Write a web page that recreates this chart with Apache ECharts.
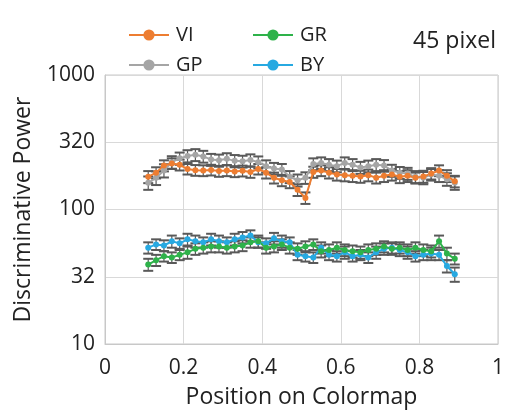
<!DOCTYPE html>
<html>
<head>
<meta charset="utf-8">
<script src="https://cdn.jsdelivr.net/npm/echarts@6/dist/echarts.min.js"></script>
<style>
  html, body { margin: 0; padding: 0; background: #fff; }
  #chart { width: 507px; height: 414px; }
</style>
</head>
<body>
<div id="chart"></div>
<script>
// position on colormap (x) for every sample
var positions = [0.11, 0.13, 0.15, 0.17, 0.19, 0.21, 0.23, 0.25, 0.27, 0.29,
                 0.31, 0.33, 0.35, 0.37, 0.39, 0.41, 0.43, 0.45, 0.47, 0.49,
                 0.51, 0.53, 0.55, 0.57, 0.59, 0.61, 0.63, 0.65, 0.67, 0.69,
                 0.71, 0.73, 0.75, 0.77, 0.79, 0.81, 0.83, 0.85, 0.87, 0.89];

var viValues = [175, 188, 212, 220, 215, 200, 196, 195, 197, 193,
                195, 192, 194, 190, 200, 188, 172, 165, 160, 140,
                122, 190, 195, 188, 182, 180, 178, 176, 180, 172,
                178, 182, 175, 178, 172, 176, 185, 195, 178, 162];
var viErr = [18, 18, 20, 20, 20, 18, 18, 18, 18, 18,
             18, 18, 18, 18, 18, 18, 16, 16, 16, 14,
             12, 18, 18, 18, 18, 18, 18, 18, 18, 16,
             18, 18, 18, 18, 16, 18, 18, 18, 18, 16];

var gpValues = [158, 172, 195, 225, 240, 250, 255, 248, 235, 232,
                238, 230, 228, 233, 225, 210, 202, 198, 175, 165,
                172, 218, 222, 215, 210, 222, 215, 205, 210, 215,
                212, 195, 188, 185, 175, 172, 182, 178, 168, 158];
var gpErr = [18, 20, 22, 24, 25, 26, 26, 25, 24, 24,
             24, 24, 23, 24, 23, 22, 20, 20, 18, 17,
             17, 22, 22, 22, 21, 22, 22, 21, 21, 22,
             21, 20, 19, 19, 18, 18, 18, 18, 18, 18];

var grValues = [39, 42, 45, 44, 46, 48, 51, 52, 53, 53,
                52, 53, 54, 57, 58, 52, 53, 55, 52, 51,
                53, 55, 49, 50, 52, 50, 49, 48, 50, 51,
                53, 51, 52, 50, 52, 50, 49, 58, 47, 43];
var grErr = [4, 4, 4, 4, 4, 5, 5, 5, 5, 5,
             5, 5, 5, 5, 6, 5, 5, 5, 5, 5,
             5, 5, 5, 5, 5, 5, 5, 5, 5, 5,
             5, 5, 5, 5, 5, 5, 5, 6, 5, 4];

var byValues = [52, 55, 54, 58, 56, 60, 58, 57, 60, 58,
                57, 60, 62, 64, 57, 56, 61, 58, 57, 46,
                45, 44, 52, 46, 45, 48, 45, 46, 44, 48,
                51, 52, 50, 48, 45, 46, 47, 46, 38, 33];
var byErr = [5, 5, 5, 6, 5, 6, 6, 5, 6, 6,
             5, 6, 6, 6, 5, 5, 6, 6, 5, 4,
             4, 4, 5, 4, 4, 5, 4, 4, 4, 5,
             5, 5, 5, 5, 4, 4, 5, 4, 4, 4];

var xTicks = [0, 0.2, 0.4, 0.6, 0.8, 1];
var yTickLabels = ['10', '32', '100', '320', '1000'];

var colors = {
  VI: '#ED7D31',
  GP: '#A5A5A5',
  GR: '#2EB24A',
  BY: '#27A9E1'
};

var chart = echarts.init(document.getElementById('chart'));
var font = 'Open Sans';

function pairs(vals) {
  return positions.map(function (x, i) { return [x, vals[i]]; });
}

function errorSeries(name, vals, errs) {
  return {
    type: 'custom',
    name: name + '-err',
    silent: true,
    z: 1,
    encode: { x: 0, y: [1, 2] },
    data: positions.map(function (x, i) {
      return [x, vals[i] - errs[i], vals[i] + errs[i]];
    }),
    renderItem: function (params, api) {
      var x = api.value(0);
      var lo = api.coord([x, api.value(1)]);
      var hi = api.coord([x, api.value(2)]);
      var w = 5;
      var stroke = { stroke: '#595959', lineWidth: 1.2 };
      var cap = { stroke: '#595959', lineWidth: 2 };
      return {
        type: 'group',
        children: [
          { type: 'line', shape: { x1: lo[0], y1: lo[1], x2: hi[0], y2: hi[1] }, style: stroke },
          { type: 'line', shape: { x1: lo[0] - w, y1: lo[1], x2: lo[0] + w, y2: lo[1] }, style: cap },
          { type: 'line', shape: { x1: hi[0] - w, y1: hi[1], x2: hi[0] + w, y2: hi[1] }, style: cap }
        ]
      };
    }
  };
}

function lineSeries(name, vals) {
  return {
    type: 'line',
    name: name,
    data: pairs(vals),
    z: 3,
    symbol: 'circle',
    symbolSize: 6,
    lineStyle: { width: 2, color: colors[name] },
    itemStyle: { color: colors[name] }
  };
}

var legendBase = {
  orient: 'vertical',
  top: 20,
  itemWidth: 40,
  itemHeight: 14,
  itemGap: 10,
  textStyle: { fontFamily: font, fontSize: 20, color: '#222', padding: [0, 0, 0, 2] }
};

var option = {
  animation: false,
  backgroundColor: '#fff',
  title: {
    text: '45 pixel',
    right: 6,
    top: 25,
    textStyle: { fontFamily: font, fontSize: 23, fontWeight: 'normal', color: '#222' }
  },
  legend: [
    Object.assign({}, legendBase, { left: 123, data: ['VI', 'GP'] }),
    Object.assign({}, legendBase, { left: 247, data: ['GR', 'BY'] })
  ],
  grid: {
    left: 105,
    right: 7,
    top: 75,
    bottom: 64,
    show: true,
    borderColor: '#c8c8c8',
    borderWidth: 1
  },
  xAxis: {
    type: 'value',
    min: 0,
    max: 1,
    interval: 0.2,
    name: 'Position on Colormap',
    nameLocation: 'middle',
    nameGap: 42,
    nameTextStyle: { fontFamily: font, fontSize: 23, color: '#222' },
    axisLine: { lineStyle: { color: '#c8c8c8' } },
    axisTick: { show: false },
    splitLine: { lineStyle: { color: '#d9d9d9' } },
    axisLabel: {
      fontFamily: font, fontSize: 21, color: '#222', margin: 14,
      formatter: function (v) {
        var i = xTicks.indexOf(Math.round(v * 10) / 10);
        return i >= 0 ? String(xTicks[i]) : '';
      }
    }
  },
  yAxis: {
    type: 'log',
    logBase: 10,
    min: 10,
    max: 1000,
    interval: 0.5,
    name: 'Discriminative Power',
    nameLocation: 'middle',
    nameGap: 70,
    nameTextStyle: { fontFamily: font, fontSize: 23, color: '#222' },
    axisLine: { lineStyle: { color: '#c8c8c8' } },
    axisTick: { show: false },
    splitLine: { lineStyle: { color: '#d9d9d9' } },
    axisLabel: {
      fontFamily: font, fontSize: 21, color: '#222', margin: 10,
      formatter: function (v) {
        var e = Math.round(Math.log10(v) * 2);
        return yTickLabels[e - 2] || '';
      }
    }
  },
  series: [
    errorSeries('GP', gpValues, gpErr),
    errorSeries('VI', viValues, viErr),
    errorSeries('GR', grValues, grErr),
    errorSeries('BY', byValues, byErr),
    lineSeries('GP', gpValues),
    lineSeries('VI', viValues),
    lineSeries('BY', byValues),
    lineSeries('GR', grValues)
  ]
};

chart.setOption(option);
</script>
</body>
</html>
